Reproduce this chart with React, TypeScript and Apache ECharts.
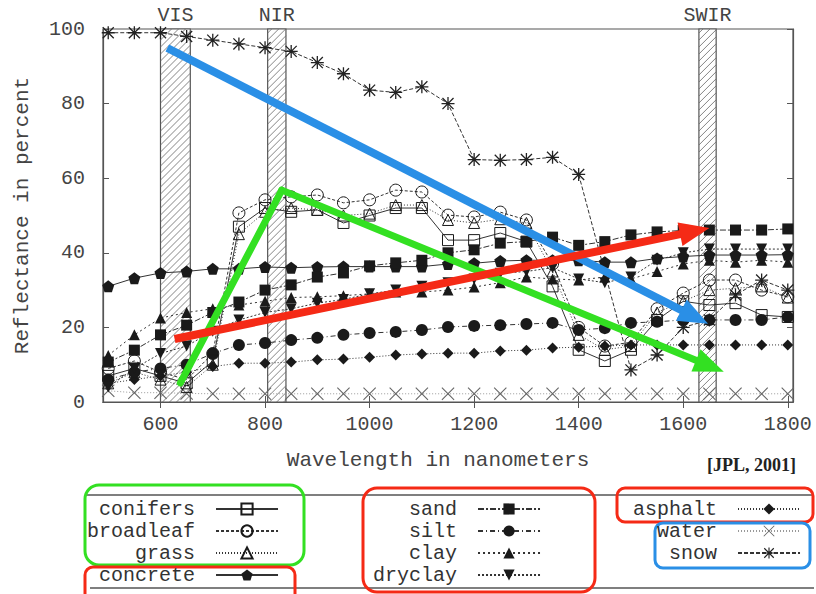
import React, { useEffect, useRef } from 'react';
import * as echarts from 'echarts';

const MONO = '"Liberation Mono", "DejaVu Sans Mono", monospace';

// Wavelengths (nm)
const wavelengths = [500, 550, 600, 650, 700, 750, 800, 850, 900, 950, 1000, 1050, 1100, 1150, 1200, 1250, 1300, 1350, 1400, 1450, 1500, 1550, 1600, 1650, 1700, 1750, 1800];

// Reflectance (%)
const conifers = [7, 9, 7, 5, 11, 47, 52, 51, 51.5, 48, 50, 52, 52, 43.4, 43.4, 45.3, 43, 31, 14, 11, 14, 22, 27, 26, 26.5, 23.3, 22.8];
const broadleaf = [9, 11, 8, 6, 13, 50.7, 54.2, 55, 55.5, 53.4, 54.2, 56.8, 56.3, 50.1, 49.6, 50.9, 48.8, 37, 20, 15, 16, 25, 29.2, 32.7, 32.7, 30, 28.2];
const grass = [5, 8, 6, 4, 10, 45, 51, 52, 51.5, 50, 50.5, 52.8, 52.8, 48.8, 48, 49, 48, 35, 18, 14, 15, 24, 27, 30, 30.5, 31, 28];
const concrete = [31, 33.2, 34.6, 35, 35.7, 35.7, 36.2, 36, 36.2, 36.3, 36.3, 36.3, 36.3, 37, 37.2, 37.8, 38, 38, 38, 37.5, 37.5, 38.5, 39, 39.4, 39.4, 39.4, 39.5];
const sand = [10.7, 13.9, 18, 20.6, 24, 26.8, 30, 31.4, 33.5, 34.6, 36.5, 37.3, 38, 40, 40.8, 42.6, 43, 44.2, 42, 43, 44.8, 45.6, 46, 46.1, 46.1, 46.1, 46.4];
const silt = [6, 8, 9, 10, 13, 15.3, 15.8, 16.6, 17.2, 18, 18.5, 18.8, 19.3, 20.1, 20.4, 20.6, 20.9, 21.2, 19.3, 19.8, 21.2, 21.5, 22, 22, 22, 22, 22.8];
const clay = [12.5, 18, 22.5, 24, 25, 26, 27, 28, 28.2, 28.5, 29, 29.5, 29.5, 30, 30.8, 32, 33.5, 33, 32.7, 33.5, 33, 35, 37, 38, 37.5, 38, 37.5];
const dryclay = [4, 9, 13, 15, 19, 22, 24, 25, 26.5, 27.5, 29, 30, 31, 32, 33, 34.5, 35, 36, 33, 32, 33.5, 38, 40, 41, 41, 41, 41];
const asphalt = [5, 6, 7, 8, 9.5, 10.4, 10.4, 10.7, 11.3, 11.5, 12, 12.6, 12.9, 13.1, 13.1, 13.7, 13.9, 14.5, 14.7, 15, 15.3, 15.3, 15.3, 15.3, 15.3, 15.3, 15.3];
const water = [3, 2.5, 2.5, 2.3, 2.2, 2.2, 2.2, 2.2, 2.2, 2.2, 2.2, 2.2, 2.2, 2.2, 2.2, 2.2, 2.2, 2.2, 2.2, 2.2, 2.2, 2.2, 2.2, 2.2, 2.2, 2.2, 2.2];
const snow = [99, 99, 99, 98, 97, 96, 95, 94, 91, 88, 83.6, 83, 84.5, 80, 65, 64.8, 65, 65.6, 61, null, 8.6, 12.6, 20, 22, 28.7, 32.7, 30];

// Spectral bands
const bandNames = ['VIS', 'NIR', 'SWIR'];
const bandStart = [600, 805, 1630];
const bandEnd = [657, 840, 1663];

// Axis ticks
const xTicks = [600, 800, 1000, 1200, 1400, 1600, 1800];

// Annotation arrows (wavelength, reflectance)
const blueArrowX = [613, 1622];
const blueArrowY = [94.9, 22.8];
const redArrowX = [627, 1622];
const redArrowY = [16.9, 45.8];
const greenArrowX = [638, 832, 1651];
const greenArrowY = [5.1, 56.8, 9.65];

const legendCol1 = ['conifers', 'broadleaf', 'grass', 'concrete'];
const legendCol2 = ['sand', 'silt', 'clay', 'dryclay'];
const legendCol3 = ['asphalt', 'water', 'snow'];

const PENTAGON = 'path://M5,0L10,3.8L8.1,10L1.9,10L0,3.8Z';
const XMARK = 'path://M0.6,0L10,9.4L9.4,10L0,0.6Z M9.4,0L10,0.6L0.6,10L0,9.4Z';
const STAR = 'path://M4.5,0H5.5V10H4.5Z M0,4.5H10V5.5H0Z M1.1,0.4L9.6,8.9L8.9,9.6L0.4,1.1Z M8.9,0.4L9.6,1.1L1.1,9.6L0.4,8.9Z';

const BLUE = '#2a8fe6';
const GREEN = '#33e022';
const RED = '#f52a16';
const INK = '#1a1a1a';

function pairs(vals: (number | null)[]) {
  return wavelengths.map((w, i) => [w, vals[i]]);
}

function mkSeries(name: string, vals: (number | null)[], symbol: string, size: number, lineType: any, open: boolean, extra: any = {}) {
  return {
    name,
    type: 'line',
    data: pairs(vals),
    symbol,
    symbolSize: size,
    showSymbol: true,
    connectNulls: true,
    lineStyle: { color: extra.lineColor || '#333', width: 1, type: lineType },
    itemStyle: open
      ? { color: 'rgba(255,255,255,0)', borderColor: extra.color || INK, borderWidth: 1 }
      : { color: extra.color || INK, borderWidth: 0 },
    symbolRotate: extra.rotate || 0,
    z: 3,
    emphasis: { disabled: true },
  };
}

export default function App() {
  const ref = useRef<HTMLDivElement>(null);
  useEffect(() => {
    const chart = echarts.init(ref.current!, null, { renderer: 'svg' });

    const bandData = bandStart.map((s, i) => [s, bandEnd[i], i]);

    const legendBase = {
      orient: 'vertical',
      align: 'right',
      itemWidth: 62,
      itemHeight: 14,
      itemGap: 2,
      padding: 0,
      selectedMode: false,
      textStyle: { fontFamily: MONO, fontSize: 20, color: '#333', lineHeight: 20, padding: [0, 16, 0, 0] },
    };

    const option: any = {
      animation: false,
      backgroundColor: '#fff',
      grid: { left: 103, right: 23, top: 29, bottom: 192, show: true, borderColor: '#555', borderWidth: 1.2, containLabel: false },
      xAxis: [
        {
          type: 'value', min: 490, max: 1810, position: 'bottom',
          axisLine: { show: true, lineStyle: { color: '#555', width: 1.2 } },
          axisTick: { show: true, inside: true, length: 6, customValues: xTicks, lineStyle: { color: '#555' } },
          axisLabel: { customValues: xTicks, formatter: (v: number) => String(v), fontFamily: MONO, fontSize: 20, color: '#444', margin: 12 },
          splitLine: { show: false },
          name: 'Wavelength in nanometers', nameLocation: 'middle', nameGap: 48,
          nameTextStyle: { fontFamily: MONO, fontSize: 21, color: '#444', padding: [0, 20, 0, 0] },
        },
        {
          type: 'value', min: 490, max: 1810, position: 'top',
          axisLine: { show: true, lineStyle: { color: '#555', width: 1.2 } },
          axisTick: { show: true, inside: true, length: 6, customValues: xTicks, lineStyle: { color: '#555' } },
          axisLabel: { show: false },
          splitLine: { show: false },
        },
      ],
      yAxis: [
        {
          type: 'value', min: 0, max: 100, interval: 20, position: 'left',
          axisLine: { show: true, lineStyle: { color: '#555', width: 1.2 } },
          axisTick: { show: true, inside: true, length: 6, lineStyle: { color: '#555' } },
          axisLabel: { fontFamily: MONO, fontSize: 20, color: '#444', margin: 18 },
          splitLine: { show: false },
          name: 'Reflectance in percent', nameLocation: 'middle', nameGap: 70, nameRotate: 90,
          nameTextStyle: { fontFamily: MONO, fontSize: 21, color: '#444' },
        },
        {
          type: 'value', min: 0, max: 100, interval: 20, position: 'right',
          axisLine: { show: true, lineStyle: { color: '#555', width: 1.2 } },
          axisTick: { show: true, inside: true, length: 6, lineStyle: { color: '#555' } },
          axisLabel: { show: false },
          splitLine: { show: false },
        },
      ],
      legend: [
        { ...legendBase, data: legendCol1, left: 87, top: 499 },
        { ...legendBase, data: legendCol2, left: 373, top: 499 },
        { ...legendBase, data: legendCol3, left: 633, top: 499 },
      ],
      series: [
        {
          name: 'bands', type: 'custom', data: bandData, z: 1, silent: true,
          renderItem: (params: any, api: any) => {
            const p0 = api.coord([api.value(0), 100]);
            const p1 = api.coord([api.value(1), 0]);
            const x0 = p0[0], y0 = p0[1], x1 = p1[0], y1 = p1[1];
            const w = x1 - x0;
            const children: any[] = [
              { type: 'rect', shape: { x: x0, y: y0, width: w, height: y1 - y0 }, style: { fill: '#fff', stroke: '#555', lineWidth: 1.2 } },
            ];
            for (let c = y0 + 4; c < y1 + w; c += 7) {
              let sx = x0, sy = c, ex = x1, ey = c - w;
              if (sy > y1) { sx = x0 + (sy - y1); sy = y1; }
              if (ey < y0) { ex = x0 + (c - y0); ey = y0; }
              if (sx >= ex) continue;
              children.push({ type: 'line', shape: { x1: sx, y1: sy, x2: ex, y2: ey }, style: { stroke: '#666', lineWidth: 0.8 } });
            }
            children.push({
              type: 'text',
              style: { text: bandNames[api.value(2)], x: (x0 + x1) / 2, y: y0 - 4, align: 'center', verticalAlign: 'bottom', fontFamily: MONO, fontSize: 20, fill: '#444' },
            });
            return { type: 'group', children };
          },
        },
        mkSeries('water', water, XMARK, 13, [1, 2], false, { color: '#666', lineColor: '#999' }),
        mkSeries('snow', snow, STAR, 13, [4, 2], false, { color: '#222' }),
        mkSeries('asphalt', asphalt, 'diamond', 11, [1, 2], false),
        mkSeries('silt', silt, 'circle', 12, [5, 3, 1, 3], false),
        mkSeries('dryclay', dryclay, 'triangle', 11, [2, 2], false, { rotate: 180 }),
        mkSeries('clay', clay, 'triangle', 11, [2, 3], false),
        mkSeries('concrete', concrete, PENTAGON, 12, 'solid', false),
        mkSeries('sand', sand, 'rect', 11, [6, 2, 2, 2], false),
        mkSeries('conifers', conifers, 'rect', 11, 'solid', true),
        mkSeries('grass', grass, 'triangle', 11, [1, 2], true),
        mkSeries('broadleaf', broadleaf, 'circle', 12, [3, 2], true),
        {
          name: 'arrows', type: 'line', data: [], silent: true, z: 10,
          markLine: {
            silent: true, animation: false, label: { show: false },
            symbol: ['none', 'triangle'], symbolSize: [24, 30],
            emphasis: { disabled: true },
            data: [
              [
                { coord: [greenArrowX[0], greenArrowY[0]], symbol: 'none', lineStyle: { color: GREEN, width: 7, type: 'solid', cap: 'round' } },
                { coord: [greenArrowX[1], greenArrowY[1]], symbol: 'none' },
              ],
              [
                { coord: [greenArrowX[1], greenArrowY[1]], symbol: 'none', lineStyle: { color: GREEN, width: 7, type: 'solid', cap: 'round' } },
                { coord: [greenArrowX[2], greenArrowY[2]] },
              ],
              [
                { coord: [blueArrowX[0], blueArrowY[0]], symbol: 'none', lineStyle: { color: BLUE, width: 8, type: 'solid' } },
                { coord: [blueArrowX[1], blueArrowY[1]] },
              ],
              [
                { coord: [redArrowX[0], redArrowY[0]], symbol: 'none', lineStyle: { color: RED, width: 8, type: 'solid' } },
                { coord: [redArrowX[1], redArrowY[1]] },
              ],
            ],
          },
        },
      ],
      graphic: [
        { type: 'line', shape: { x1: 87, y1: 495, x2: 814, y2: 495 }, style: { stroke: '#555', lineWidth: 1.5 }, z: 1 },
        { type: 'line', shape: { x1: 90, y1: 588, x2: 814, y2: 588 }, style: { stroke: '#555', lineWidth: 1.5 }, z: 1 },
        { type: 'rect', shape: { x: 85, y: 485, width: 219, height: 80, r: 14 }, style: { fill: 'none', stroke: GREEN, lineWidth: 3 }, z: 2 },
        { type: 'rect', shape: { x: 85, y: 567, width: 210, height: 40, r: 8 }, style: { fill: 'none', stroke: RED, lineWidth: 3 }, z: 2 },
        { type: 'rect', shape: { x: 363, y: 488, width: 232, height: 104, r: 14 }, style: { fill: 'none', stroke: RED, lineWidth: 3 }, z: 2 },
        { type: 'rect', shape: { x: 617, y: 488, width: 196, height: 34, r: 8 }, style: { fill: 'none', stroke: RED, lineWidth: 3 }, z: 2 },
        { type: 'rect', shape: { x: 655, y: 523, width: 155, height: 45, r: 8 }, style: { fill: 'none', stroke: BLUE, lineWidth: 3 }, z: 2 },
        {
          type: 'text', x: 796, y: 465, z: 2,
          style: { text: '[JPL, 2001]', align: 'right', verticalAlign: 'middle', fontFamily: '"Liberation Serif", "DejaVu Serif", serif', fontWeight: 'bold', fontSize: 18, fill: '#222' },
        },
      ],
    };

    chart.setOption(option);
    return () => chart.dispose();
  }, []);
  return <div ref={ref} style={{ width: 816, height: 594, position: 'absolute', left: 0, top: 0 }} />;
}
